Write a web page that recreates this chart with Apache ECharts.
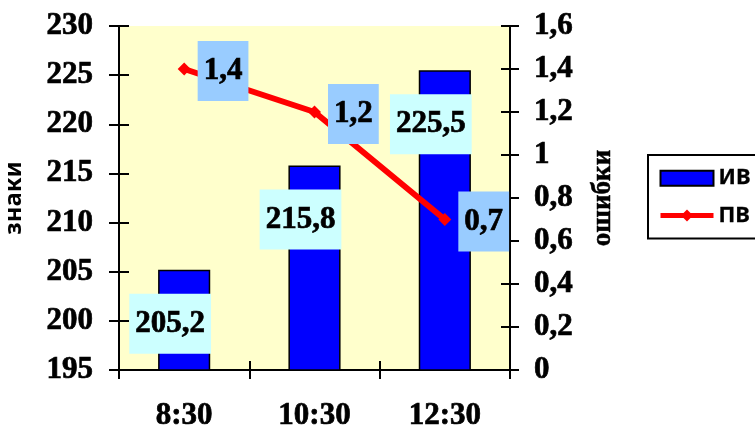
<!DOCTYPE html>
<html>
<head>
<meta charset="utf-8">
<style>html,body{margin:0;padding:0;background:#fff}#c{width:755px;height:430px}</style>
<script src="https://cdn.jsdelivr.net/npm/echarts@6/dist/echarts.min.js"></script>
</head>
<body>
<div id="c"></div>
<script>
var categories = ['8:30', '10:30', '12:30'];
var ivValues = [205.2, 215.8, 225.5];
var pvValues = [1.4, 1.2, 0.7];
var leftTicks = {min: 195, max: 230, interval: 5};
var rightTicks = {min: 0, max: 1.6, interval: 0.2};
var seriesNames = ['ИВ', 'ПВ'];
var axisNames = ['знаки', 'ошибки'];

function comma(v) { return parseFloat(Number(v).toFixed(2)).toString().replace('.', ','); }

var serif = '"Liberation Serif", "Times New Roman", serif';
var sans = '"Noto Sans", "DejaVu Sans", sans-serif';
var lbl = {fontFamily: serif, fontWeight: 'bold', fontSize: 31, color: '#000', textBorderColor: '#000', textBorderWidth: 0.7};

var chart = echarts.init(document.getElementById('c'));
chart.setOption({
  backgroundColor: '#fff',
  animation: false,
  grid: {left: 119, right: 245, top: 26, bottom: 60, show: true, backgroundColor: '#FFFFCC', borderWidth: 0,
         containLabel: false, outerBoundsMode: 'none'},
  legend: {
    orient: 'vertical', left: 648, top: 155,
    padding: [12, 30, 12, 10], itemGap: 15, itemWidth: 53, itemHeight: 15,
    borderColor: '#000', borderWidth: 2,
    textStyle: {fontFamily: sans, fontWeight: 'bold', fontSize: 22, color: '#000',
                textBorderColor: '#000', textBorderWidth: 0.3},
    data: [{name: seriesNames[0], icon: 'rect'},
           {name: seriesNames[1], lineStyle: {width: 5, color: '#FF0000'}}]
  },
  xAxis: [
    {type: 'category', data: categories, position: 'bottom',
     axisLine: {show: true, lineStyle: {color: '#000', width: 2}},
     axisTick: {show: true, length: 9, inside: false, lineStyle: {color: '#000', width: 2}},
     axisLabel: Object.assign({margin: 30}, lbl), splitLine: {show: false}},
    {type: 'category', data: categories, position: 'bottom',
     axisLine: {show: false},
     axisTick: {show: true, length: 9, inside: true, lineStyle: {color: '#000', width: 2}},
     axisLabel: {show: false}, splitLine: {show: false}}
  ],
  yAxis: [
    {type: 'value', position: 'left', min: leftTicks.min, max: leftTicks.max, interval: leftTicks.interval,
     name: axisNames[0], nameLocation: 'middle', nameRotate: 90, nameGap: 93,
     nameTextStyle: {fontFamily: sans, fontWeight: 'bold', fontSize: 24, color: '#000'},
     axisLine: {show: true, lineStyle: {color: '#000', width: 2}},
     axisTick: {show: true, length: 10, lineStyle: {color: '#000', width: 2}},
     axisLabel: Object.assign({margin: 26, formatter: comma}, lbl), splitLine: {show: false}},
    {type: 'value', position: 'right', min: rightTicks.min, max: rightTicks.max, interval: rightTicks.interval,
     name: axisNames[1], nameLocation: 'middle', nameRotate: 90, nameGap: 80,
     nameTextStyle: {fontFamily: serif, fontWeight: 'bold', fontSize: 27, color: '#000', textBorderColor: '#000', textBorderWidth: 0.5},
     axisLine: {show: true, lineStyle: {color: '#000', width: 2}},
     axisTick: {show: true, length: 9, lineStyle: {color: '#000', width: 2}},
     axisLabel: Object.assign({margin: 24, formatter: comma}, lbl), splitLine: {show: false}},
    {type: 'value', position: 'left', min: leftTicks.min, max: leftTicks.max, interval: leftTicks.interval,
     axisLine: {show: false}, axisTick: {show: true, inside: true, length: 10, lineStyle: {color: '#000', width: 2}},
     axisLabel: {show: false}, splitLine: {show: false}},
    {type: 'value', position: 'right', min: rightTicks.min, max: rightTicks.max, interval: rightTicks.interval,
     axisLine: {show: false}, axisTick: {show: true, inside: true, length: 9, lineStyle: {color: '#000', width: 2}},
     axisLabel: {show: false}, splitLine: {show: false}}
  ],
  series: [
    {name: seriesNames[0], type: 'bar', xAxisIndex: 0, yAxisIndex: 0, data: ivValues, barWidth: '40%',
     itemStyle: {color: '#0000FF', borderColor: '#000', borderWidth: 1.5},
     z: 2,
     label: Object.assign({show: true, position: 'insideTop', distance: 24, offset: [-14, 0],
       formatter: function (p) { return comma(p.value); },
       backgroundColor: '#CCFFFF', padding: [13, 6], lineHeight: 34}, lbl)},
    {name: seriesNames[1], type: 'line', xAxisIndex: 0, yAxisIndex: 1, data: pvValues,
     symbol: 'diamond', symbolSize: 13,
     lineStyle: {color: '#FF0000', width: 6}, itemStyle: {color: '#FF0000'},
     z: 3,
     label: Object.assign({show: true, position: 'right', distance: 7, offset: [0, 2],
       formatter: function (p) { return comma(p.value); },
       backgroundColor: '#99CCFF', padding: [13, 6], lineHeight: 34}, lbl)}
  ]
});
</script>
</body>
</html>
